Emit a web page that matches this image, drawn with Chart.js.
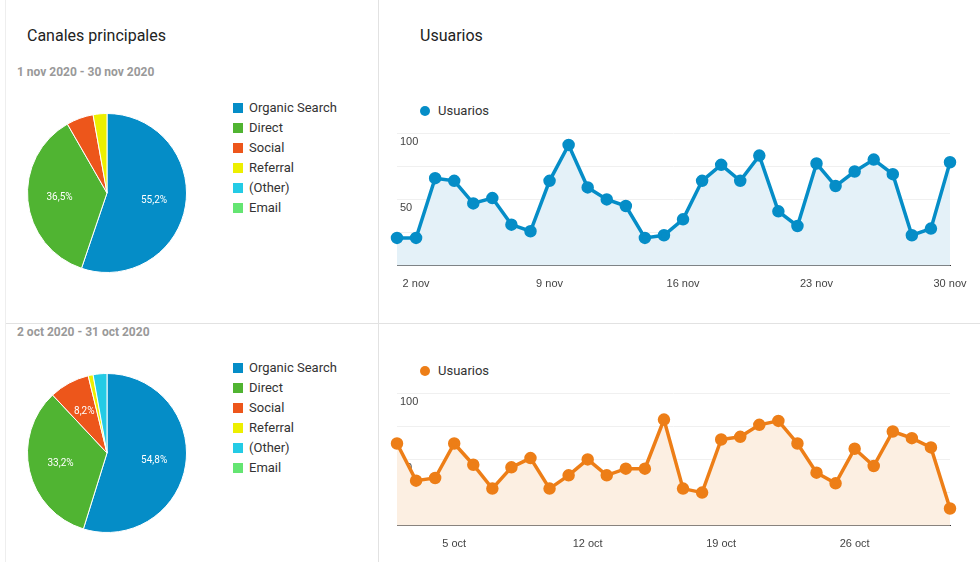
<!DOCTYPE html>
<html>
<head>
<meta charset="utf-8">
<script src="https://cdn.jsdelivr.net/npm/chart.js@4/dist/chart.umd.min.js"></script>
<style>
  body { margin: 0; width: 980px; height: 562px; background: #fff; font-family: Roboto, "Liberation Sans", Arial, sans-serif; position: relative; overflow: hidden; }
  .abs { position: absolute; }
  .title { font-size: 16px; color: #222; }
  .range { font-size: 12px; font-weight: bold; color: #999; }
  .legend div { height: 20px; font-size: 13px; color: #333; line-height: 20px; }
  .legend span { display: inline-block; width: 10px; height: 10px; margin-right: 6px; vertical-align: -1px; }
  .ulegend { font-size: 13px; color: #333; }
  .ulegend span { display: inline-block; width: 10px; height: 10px; border-radius: 50%; margin-right: 8px; vertical-align: -1px; }
</style>
</head>
<body>
<div class="abs" style="left:378px;top:0;width:1px;height:562px;background:#e2e2e2"></div>
<div class="abs" style="left:5px;top:323px;width:975px;height:1px;background:#e2e2e2"></div>
<div class="abs" style="left:5px;top:0;width:1px;height:562px;background:#eee"></div>

<div class="abs title" style="left:27px;top:26px">Canales principales</div>
<div class="abs title" style="left:420px;top:26px">Usuarios</div>
<div class="abs range" style="left:17px;top:65px">1 nov 2020 - 30 nov 2020</div>
<div class="abs range" style="left:17px;top:325px">2 oct 2020 - 31 oct 2020</div>

<div class="abs legend" id="leg1" style="left:233px;top:98px"></div>
<div class="abs legend" id="leg2" style="left:233px;top:358px"></div>

<div class="abs ulegend" style="left:420px;top:103px"><span style="background:#058dc7"></span>Usuarios</div>
<div class="abs ulegend" style="left:420px;top:363px"><span style="background:#ed7e17"></span>Usuarios</div>

<div class="abs" style="left:17px;top:103px;width:180px;height:180px"><canvas id="pie1"></canvas></div>
<div class="abs" style="left:17px;top:363px;width:180px;height:180px"><canvas id="pie2"></canvas></div>
<div class="abs" style="left:385px;top:90px;width:590px;height:205px"><canvas id="line1"></canvas></div>
<div class="abs" style="left:385px;top:350px;width:590px;height:205px"><canvas id="line2"></canvas></div>

<script>
const channels = ["Organic Search", "Direct", "Social", "Referral", "(Other)", "Email"];
const channelColors = ["#058dc7", "#50b432", "#ed561b", "#edef00", "#24cbe5", "#64e572"];
const novShares = [55.2, 36.5, 5.5, 2.8, 0, 0];
const octShares = [54.8, 33.2, 8.2, 1.0, 2.8, 0];

const novDays = [];
for (let d = 1; d <= 30; d++) novDays.push(d + " nov");
const octDays = [];
for (let d = 2; d <= 31; d++) octDays.push(d + " oct");
const novUsers = [21,21,66,64,47,51,31,26,64,91,59,50,45,21,23,35,64,76,64,83,41,30,77,60,71,80,69,23,28,78];
const octUsers = [62,34,36,62,46,28,44,51,28,38,50,38,43,43,80,28,25,65,67,76,79,62,40,32,58,45,71,66,59,13];
const novTicks = ["2 nov", "9 nov", "16 nov", "23 nov", "30 nov"];
const octTicks = ["5 oct", "12 oct", "19 oct", "26 oct"];
const yTicks = [50, 100];

// legends as html
function fillLegend(id) {
  document.getElementById(id).innerHTML = channels.map((c, i) =>
    '<div><span style="background:' + channelColors[i] + '"></span>' + c + '</div>').join("");
}
fillLegend("leg1");
fillLegend("leg2");

// percentage labels on big slices
const pctLabels = {
  id: "pctLabels",
  afterDatasetsDraw(chart) {
    const ctx = chart.ctx;
    const data = chart.data.datasets[0].data;
    chart.getDatasetMeta(0).data.forEach((arc, i) => {
      if (data[i] < 6) return;
      const mid = (arc.startAngle + arc.endAngle) / 2;
      const r = arc.outerRadius * 0.6;
      ctx.save();
      ctx.fillStyle = "#fff";
      ctx.font = "10px Roboto, Arial, sans-serif";
      ctx.textAlign = "center";
      ctx.textBaseline = "middle";
      ctx.fillText(data[i].toFixed(1).replace(".", ",") + "%", arc.x + Math.cos(mid) * r, arc.y + Math.sin(mid) * r);
      ctx.restore();
    });
  }
};

function makePie(id, values) {
  new Chart(document.getElementById(id), {
    type: "pie",
    data: { labels: channels, datasets: [{ data: values, backgroundColor: channelColors, borderColor: "#fff", borderWidth: 1 }] },
    options: {
      responsive: true, maintainAspectRatio: false, animation: false,
      layout: { padding: 10 },
      plugins: { legend: { display: false }, tooltip: { enabled: false } }
    },
    plugins: [pctLabels]
  });
}
makePie("pie1", novShares);
makePie("pie2", octShares);

function makeLine(id, labels, values, color, fill, shown) {
  new Chart(document.getElementById(id), {
    type: "line",
    data: { labels: labels, datasets: [{
      data: values, borderColor: color, backgroundColor: fill, fill: true,
      borderWidth: 3.5, pointRadius: 4.5, pointBackgroundColor: color, pointBorderColor: color, tension: 0
    }] },
    options: {
      responsive: true, maintainAspectRatio: false, animation: false,
      layout: { padding: { left: 12, right: 25, top: 43, bottom: 0 } },
      plugins: { legend: { display: false }, tooltip: { enabled: false } },
      scales: {
        x: {
          grid: { display: false },
          border: { color: "#333", width: 1 },
          ticks: {
            autoSkip: false, maxRotation: 0, color: "#444", font: { size: 11 }, padding: 4,
            callback: function (v) { const l = this.getLabelForValue(v); return shown.includes(l) ? l : ""; }
          }
        },
        y: {
          min: 0, max: 100,
          afterFit: s => { s.width = 0; },
          grid: { color: "#f0f0f0", drawTicks: false },
          border: { display: false },
          ticks: {
            stepSize: 25, mirror: true, padding: 3, labelOffset: 9, color: "#444", font: { size: 11 },
            callback: v => yTicks.includes(v) ? v : ""
          }
        }
      }
    }
  });
}
makeLine("line1", novDays, novUsers, "#058dc7", "#e4f1f8", novTicks);
makeLine("line2", octDays, octUsers, "#ed7e17", "#fcefe2", octTicks);
</script>
</body>
</html>
